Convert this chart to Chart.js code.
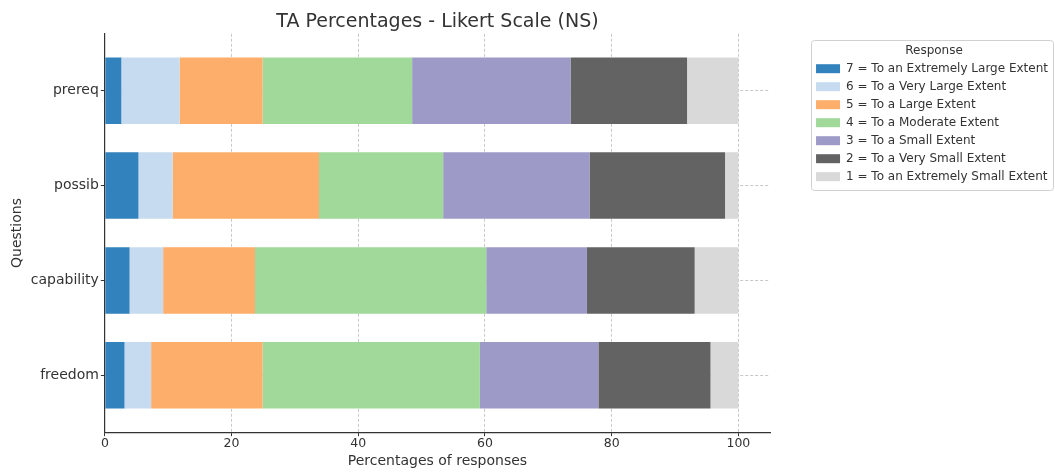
<!DOCTYPE html>
<html>
<head>
<meta charset="utf-8">
<script src="https://cdn.jsdelivr.net/npm/chart.js@4.4.1/dist/chart.umd.min.js"></script>
<style>
  html, body { margin: 0; padding: 0; background: #fff; }
</style>
</head>
<body>
<canvas id="likertChart" width="1055" height="472"></canvas>
<script>
/* data */
const questions = ['prereq', 'possib', 'capability', 'freedom'];
const responseLabels = [
  '7 = To an Extremely Large Extent',
  '6 = To a Very Large Extent',
  '5 = To a Large Extent',
  '4 = To a Moderate Extent',
  '3 = To a Small Extent',
  '2 = To a Very Small Extent',
  '1 = To an Extremely Small Extent'
];
const resp7 = [2.6, 5.3, 3.9, 3.1];
const resp6 = [9.2, 5.4, 5.3, 4.2];
const resp5 = [13.1, 23.1, 14.5, 17.6];
const resp4 = [23.6, 19.6, 36.5, 34.3];
const resp3 = [25.0, 23.1, 15.9, 18.7];
const resp2 = [18.4, 21.4, 17.0, 17.7];
const resp1 = [8.1, 2.1, 6.9, 4.4];
const xTicks = [0, 20, 40, 60, 80, 100];

const colors = ['#3182bd', '#c6dbef', '#fdae6b', '#a1d99b', '#9e9ac8', '#636363', '#d9d9d9'];
const series = [resp7, resp6, resp5, resp4, resp3, resp2, resp1];

Chart.defaults.font.family = "'DejaVu Sans', sans-serif";
Chart.defaults.color = '#333';

const gridColor = 'rgba(176,176,176,0.7)';
const legendGap = 35;   // empty room between plot and legend
const legendNudge = 5;  // legend sits a bit past the right padding

// push the legend away from the plot and draw a frame round it
const legendFrame = {
  id: 'legendFrame',
  beforeLayout(chart) {
    const lg = chart.legend;
    if (lg && !lg._wider) {
      const fit = lg.fit.bind(lg);
      lg.fit = function () { fit(); this.width += legendGap; };
      lg._wider = true;
    }
  },
  afterLayout(chart) {
    const lg = chart.legend;
    if (!lg) return;
    lg.left += legendGap + legendNudge;
    lg.width -= legendGap;
  },
  afterDraw(chart) {
    const lg = chart.legend;
    if (!lg || !lg.legendHitBoxes.length) return;
    const hb = lg.legendHitBoxes;
    const left = Math.min(...hb.map(b => b.left)) - 5;
    const right = Math.max(...hb.map(b => b.left + b.width)) + 5;
    const top = hb[0].top - 23;
    const last = hb[hb.length - 1];
    const bottom = last.top + last.height + 7;
    const ctx = chart.ctx;
    ctx.save();
    ctx.strokeStyle = '#d0d0d0';
    ctx.lineWidth = 1;
    ctx.beginPath();
    ctx.roundRect(Math.round(left) + 0.5, Math.round(top) + 0.5, Math.round(right - left), Math.round(bottom - top), 3);
    ctx.stroke();
    ctx.restore();
  }
};

const datasets = series.map((vals, k) => ({
  label: responseLabels[k],
  data: vals.map((v, i) => ({ x: v, y: i })),
  backgroundColor: colors[k],
  borderWidth: 0,
  barPercentage: 0.7,
  categoryPercentage: 1
}));

new Chart(document.getElementById('likertChart'), {
  type: 'bar',
  data: { datasets: datasets },
  plugins: [legendFrame],
  options: {
    responsive: false,
    animation: false,
    indexAxis: 'y',
    layout: { padding: { left: 9, right: 2, top: 0, bottom: 1 } },
    plugins: {
      title: {
        display: true,
        text: 'TA Percentages - Likert Scale (NS)',
        fullSize: false,
        font: { size: 19, weight: 'normal' },
        color: '#333',
        padding: { top: 11, bottom: 0 }
      },
      legend: {
        position: 'right',
        align: 'start',
        title: {
          display: true,
          text: 'Response',
          font: { size: 12, lineHeight: 0.975 },
          color: '#333',
          padding: { top: 45, bottom: 0 }
        },
        labels: {
          boxWidth: 24,
          boxHeight: 9,
          font: { size: 12 },
          color: '#333',
          padding: 6
        }
      },
      tooltip: {
        callbacks: {
          title: items => questions[items[0].parsed.y],
          label: c => c.dataset.label + ': ' + c.parsed.x.toFixed(1) + '%'
        }
      }
    },
    scales: {
      x: {
        type: 'linear',
        stacked: true,
        min: 0,
        max: 105,
        z: 1,
        afterBuildTicks: s => { s.ticks = xTicks.map(v => ({ value: v })); },
        grid: { color: gridColor, tickLength: 4, tickColor: '#333' },
        border: { display: true, color: '#333', width: 1.2, dash: [3, 2] },
        ticks: { font: { size: 12.5 }, color: '#333', padding: 0 },
        title: { display: true, text: 'Percentages of responses', font: { size: 14 }, color: '#333', padding: { top: 2, bottom: 1 } }
      },
      y: {
        type: 'linear',
        stacked: true,
        reverse: true,
        offset: false,
        min: -0.6,
        max: 3.6,
        z: 1,
        afterBuildTicks: s => { s.ticks = questions.map((q, i) => ({ value: i })); },
        grid: { offset: false, color: gridColor, tickLength: 4, tickColor: '#333' },
        border: { display: true, color: '#333', width: 1.2, dash: [3, 2] },
        ticks: { font: { size: 14 }, color: '#333', padding: 2, callback: v => questions[v] },
        title: { display: true, text: 'Questions', font: { size: 14 }, color: '#333', padding: { top: 0, bottom: 3 } }
      }
    }
  }
});
</script>
</body>
</html>
